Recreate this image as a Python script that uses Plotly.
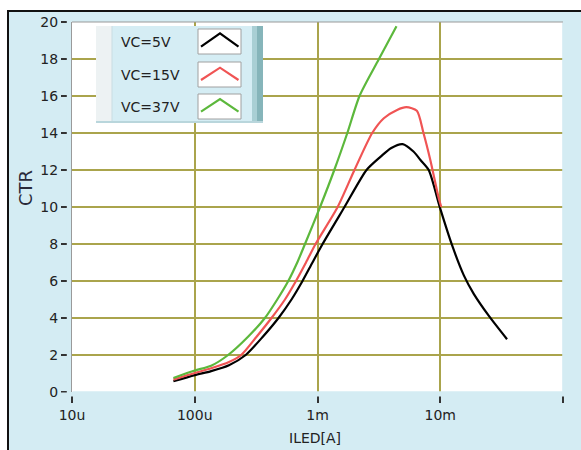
import plotly.graph_objects as go

# ---- data (ILED in amps, CTR) ----
black_x = [6.7e-5, 1.0e-4, 1.36e-4, 1.9e-4, 2.6e-4, 3.6e-4, 4.81e-4, 6.14e-4, 7.55e-4, 9.1e-4,
           1.10e-3, 1.66e-3, 2.51e-3, 3.27e-3, 3.96e-3, 4.94e-3, 6.05e-3, 6.9e-3, 8.05e-3,
           1.0e-2, 1.25e-2, 1.56e-2, 1.88e-2, 2.49e-2, 3.5e-2]
black_y = [0.58, 0.91, 1.13, 1.45, 2.0, 3.0, 4.0, 5.0, 6.0, 7.0,
           8.0, 10.0, 12.0, 12.72, 13.18, 13.4, 13.0, 12.54, 12.0,
           9.91, 7.92, 6.29, 5.29, 4.11, 2.85]

red_x = [6.7e-5, 1.0e-4, 1.36e-4, 1.9e-4, 2.39e-4, 3.2e-4, 4.22e-4, 5.43e-4, 6.68e-4, 8.06e-4,
         9.64e-4, 1.46e-3, 2.0e-3, 2.79e-3, 3.47e-3, 4.45e-3, 5.3e-3, 6.45e-3, 7.3e-3,
         8.3e-3, 9.7e-3, 1.02e-2]
red_y = [0.67, 1.03, 1.28, 1.62, 2.0, 3.0, 4.0, 5.0, 6.0, 7.0,
         8.0, 10.0, 12.0, 14.0, 14.8, 15.25, 15.4, 15.2, 14.0,
         12.54, 10.5, 10.0]

green_x = [6.7e-5, 1.0e-4, 1.36e-4, 1.87e-4, 2.73e-4, 3.73e-4, 4.7e-4, 5.78e-4, 6.84e-4, 7.91e-4,
           1.05e-3, 1.37e-3, 1.75e-3, 2.2e-3, 3.15e-3, 4.4e-3]
green_y = [0.76, 1.16, 1.42, 2.0, 3.0, 4.0, 5.0, 6.0, 7.0, 8.0,
           10.0, 12.0, 14.0, 16.0, 17.97, 19.77]

series_names = ["VC=5V", "VC=15V", "VC=37V"]
series_colors = ["#000000", "#f05454", "#5cb83c"]

x_tickvals = [1e-5, 1e-4, 1e-3, 1e-2, 1e-1]
x_ticktext = ["10u", "100u", "1m", "10m", "100m"]
y_tickvals = [0, 2, 4, 6, 8, 10, 12, 14, 16, 18, 20]

# ---- layout geometry (pixels) ----
WIDTH, HEIGHT = 581, 450
L, R, T, B = 72, 563, 22, 392
PW, PH = R - L, B - T


def fx(px):
    return (px - L) / PW


def fy(py):
    return (B - py) / PH


BG = "#d4ecf3"
GRID = "#aaa44c"
FONT = "DejaVu Sans"

fig = go.Figure()
for xs, ys, name, col in zip([black_x, red_x, green_x], [black_y, red_y, green_y],
                             series_names, series_colors):
    fig.add_trace(go.Scatter(x=xs, y=ys, mode="lines", name=name,
                             line=dict(color=col, width=2.2, shape="spline", smoothing=0.7),
                             showlegend=False))

shapes = []
# white outer strips and black frame
shapes.append(dict(type="rect", xref="paper", yref="paper", x0=fx(0), x1=fx(WIDTH), y0=fy(0), y1=fy(10),
                   fillcolor="white", line=dict(width=0), layer="below"))
shapes.append(dict(type="rect", xref="paper", yref="paper", x0=fx(0), x1=fx(7), y0=fy(0), y1=fy(HEIGHT),
                   fillcolor="white", line=dict(width=0), layer="below"))
shapes.append(dict(type="line", xref="paper", yref="paper", x0=fx(7), x1=fx(WIDTH), y0=fy(11), y1=fy(11),
                   line=dict(color="#111111", width=2)))
shapes.append(dict(type="line", xref="paper", yref="paper", x0=fx(8), x1=fx(8), y0=fy(10), y1=fy(HEIGHT),
                   line=dict(color="#111111", width=2)))
# hide grid lines lying on the bottom and right edges of the plot area
shapes.append(dict(type="rect", xref="paper", yref="paper", x0=fx(L + 0.6), x1=fx(R + 3), y0=fy(393.5), y1=fy(391.2),
                   fillcolor=BG, line=dict(width=0), layer="above"))
shapes.append(dict(type="rect", xref="paper", yref="paper", x0=fx(R - 0.8), x1=fx(R + 3), y0=fy(393.5), y1=fy(T + 0.5),
                   fillcolor=BG, line=dict(width=0), layer="above"))
# top gray border of plot area
shapes.append(dict(type="line", xref="paper", yref="paper", x0=0, x1=1, y0=1, y1=1,
                   line=dict(color="#9a9a9a", width=1.2)))
# gaps between ticks and plot
shapes.append(dict(type="rect", xref="paper", yref="paper", x0=fx(66.8), x1=fx(71.0), y0=fy(B + 1), y1=fy(T - 1),
                   fillcolor=BG, line=dict(width=0), layer="above"))
shapes.append(dict(type="rect", xref="paper", yref="paper", x0=fx(L - 12), x1=fx(R + 12), y0=fy(392.6), y1=fy(396.5),
                   fillcolor=BG, line=dict(width=0), layer="above"))

# legend box
lx0, lx1, ly0, ly1 = 96, 263, 26, 123
shapes.append(dict(type="rect", xref="paper", yref="paper", x0=fx(lx0), x1=fx(lx1), y0=fy(ly1), y1=fy(ly0),
                   fillcolor="#d5edf4", line=dict(width=0), layer="above"))
shapes.append(dict(type="rect", xref="paper", yref="paper", x0=fx(lx0), x1=fx(112), y0=fy(ly1), y1=fy(ly0),
                   fillcolor="#edf2f3", line=dict(width=0), layer="above"))
shapes.append(dict(type="line", xref="paper", yref="paper", x0=fx(112), x1=fx(112), y0=fy(ly1), y1=fy(ly0),
                   line=dict(color="#c9dde2", width=1), layer="above"))
shapes.append(dict(type="rect", xref="paper", yref="paper", x0=fx(252), x1=fx(257), y0=fy(ly1), y1=fy(ly0),
                   fillcolor="#a9cfd4", line=dict(width=0), layer="above"))
shapes.append(dict(type="rect", xref="paper", yref="paper", x0=fx(257), x1=fx(lx1), y0=fy(ly1), y1=fy(ly0),
                   fillcolor="#86b5ba", line=dict(width=0), layer="above"))
shapes.append(dict(type="line", xref="paper", yref="paper", x0=fx(lx0), x1=fx(lx1), y0=fy(122), y1=fy(122),
                   line=dict(color="#b9d6dc", width=2), layer="above"))

rows = [(29, 54, 46.7, 33.3), (62, 87, 80, 67.7), (94, 119, 111.7, 99)]
for (sy0, sy1, base, peak), col in zip(rows, series_colors):
    shapes.append(dict(type="rect", xref="paper", yref="paper", x0=fx(198), x1=fx(241), y0=fy(sy1), y1=fy(sy0),
                       fillcolor="white", line=dict(color="#a0a0a0", width=1), layer="above"))
    path = "M {:.5f},{:.5f} L {:.5f},{:.5f} L {:.5f},{:.5f}".format(
        fx(201), fy(base), fx(220), fy(peak), fx(238.5), fy(base))
    shapes.append(dict(type="path", xref="paper", yref="paper", path=path,
                       line=dict(color=col, width=2.2), layer="above"))

annotations = []
for (sy0, sy1, base, peak), name in zip(rows, series_names):
    annotations.append(dict(xref="paper", yref="paper", x=fx(119), y=fy((sy0 + sy1) / 2),
                            text=name, showarrow=False, xanchor="left", yanchor="middle",
                            font=dict(family=FONT, size=14, color="#222222")))
annotations.append(dict(xref="paper", yref="paper", x=fx(25), y=fy(188), text="CTR", textangle=-90,
                        showarrow=False, xanchor="center", yanchor="middle",
                        font=dict(family=FONT, size=18, color="#2a2a3a")))
annotations.append(dict(xref="paper", yref="paper", x=fx(315), y=fy(438), text="ILED[A]",
                        showarrow=False, xanchor="center", yanchor="middle",
                        font=dict(family=FONT, size=14, color="#222222")))

fig.update_layout(
    width=WIDTH, height=HEIGHT,
    margin=dict(l=L, r=WIDTH - R, t=T, b=HEIGHT - B),
    paper_bgcolor=BG, plot_bgcolor="white",
    shapes=shapes, annotations=annotations,
    showlegend=False,
    xaxis=dict(type="log", range=[-5, -1], tickmode="array", tickvals=x_tickvals, ticktext=x_ticktext,
               showgrid=True, gridcolor=GRID, gridwidth=1.5, zeroline=False, showline=False,
               ticks="outside", ticklen=10, tickwidth=1.5, tickcolor="#333333",
               tickfont=dict(family=FONT, size=14, color="#222222")),
    yaxis=dict(range=[0, 20], tickmode="array", tickvals=y_tickvals,
               showgrid=True, gridcolor=GRID, gridwidth=1.5, zeroline=False,
               showline=True, linecolor="#9a9a9a", linewidth=1.2,
               ticks="outside", ticklen=10, tickwidth=1.5, tickcolor="#333333",
               tickfont=dict(family=FONT, size=14, color="#222222")),
)

fig.write_html("out.html")
